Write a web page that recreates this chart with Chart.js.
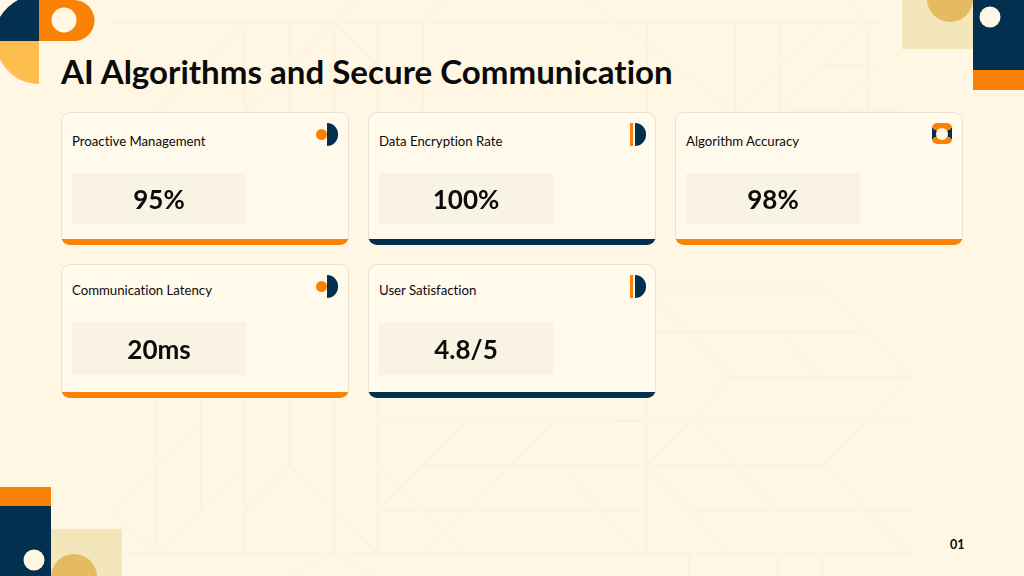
<!DOCTYPE html>
<html>
<head>
<meta charset="utf-8">
<script src="https://cdn.jsdelivr.net/npm/chart.js@4/dist/chart.umd.min.js"></script>
<style>
  html, body { margin: 0; padding: 0; }
  body { width: 1024px; height: 576px; overflow: hidden; position: relative; background: #fff7e4; font-family: Lato, "Noto Sans", sans-serif; font-variant-ligatures: none; color: #0b0b0b; }
  svg.bg { position: absolute; left: 0; top: 0; }
  h1 { position: absolute; left: 61px; top: 50px; margin: 0; font-size: 33.1px; line-height: 42px; font-weight: 700; white-space: nowrap; }
  .card { position: absolute; width: 288px; box-sizing: border-box; background: #fffaeb; box-shadow: inset 0 0 0 1px #e9e1ce; border-radius: 9px; overflow: hidden; }
  .card .strip { position: absolute; left: 0; right: 0; bottom: 0; height: 6px; }
  .card .name { position: absolute; left: 11px; font-size: 13.2px; line-height: 16px; white-space: nowrap; }
  .card canvas { position: absolute; left: 11px; }
  .icon { position: absolute; width: 24px; height: 23px; }
  .dot { position: absolute; left: 0; top: 6px; width: 11px; height: 11px; border-radius: 50%; background: #f98205; }
  .half { position: absolute; left: 11px; top: 0; width: 11px; height: 23px; border-radius: 0 12px 12px 0; background: #03304f; }
  .rule { position: absolute; left: 0; top: 0; width: 3px; height: 23px; background: #f98205; }
  .ring { position: absolute; left: 0; top: 0; width: 20px; height: 21px; border-radius: 5px; background: conic-gradient(from -62deg, #f98205 0 124deg, #03304f 124deg 180deg, #f98205 180deg 304deg, #03304f 304deg 360deg); }
  .ring i { position: absolute; left: 4px; top: 4.5px; width: 12px; height: 12px; border-radius: 50%; background: #fff7e4; }
  .page { position: absolute; left: 950px; top: 537px; font-size: 12.5px; line-height: 16px; font-weight: 700; }
</style>
</head>
<body>

<svg class="bg" width="1024" height="576" viewBox="0 0 1024 576">
  <!-- faint background pattern -->
  <g fill="none" stroke="#f9efd8" stroke-width="1">
    <path d="M110 22H880M245 22V112M290 22V112M334 22V112M378 22V112M423 22V112M647 22V112M735 22V112M779 22V112M867 22V112"/>
    <path d="M334 22L378 -22M334 22L423 112M157 112L245 22M245 112L334 22M423 22L467 -22M560 -22L735 112M735 112L824 22M779 112L867 22M867 22L824 -22M779 110H900M824 66H880L836 110"/>
    <path d="M655 288H823L910 377L823 465H646L732 377H910M656 332H867M732 377L655 300M781 335L821 377M620 421H912M692 421L777 510M692 421L646 465M692 510H912M620 554H912M646 465L732 554M823 465L910 554"/>
    <path d="M157 398V554M201 398V510M245 398V554M290 398V465M334 398V554M378 398V554M646 398V554M689 554V576M778 554V576M822 554V576"/>
    <path d="M123 554H620M378 421H640M423 465H640M378 510H640M290 465L245 510M290 465L378 554M378 510L467 421M378 465L423 510L467 554M423 554L511 465M157 554L245 465M112 510L201 421M112 510L157 554M511 465L555 421M560 465L640 554M334 554L290 576M334 554L378 576"/>
  </g>
  <!-- corner shapes -->
  <path d="M39 41H0V17A46 46 0 0 1 18 0H39Z" fill="#03304f"/>
  <path d="M39 0H74A20.5 20.5 0 0 1 74 41H39Z" fill="#f98205"/>
  <circle cx="64" cy="20" r="12.5" fill="#fff7e4"/>
  <path d="M39 41V84A43 43 0 0 1 0 59V41Z" fill="#fdbd4f"/>
  <rect x="902" y="0" width="71" height="49" fill="#f3e6bb"/>
  <circle cx="950" cy="-1" r="23" fill="#e4bb60"/>
  <rect x="973" y="0" width="51" height="70" fill="#03304f"/>
  <rect x="973" y="70" width="51" height="20" fill="#f98205"/>
  <circle cx="990" cy="17" r="10.5" fill="#fff7e4"/>
  <rect x="0" y="487" width="51" height="19" fill="#f98205"/>
  <rect x="0" y="506" width="51" height="70" fill="#03304f"/>
  <circle cx="34" cy="560" r="10.5" fill="#fff7e4"/>
  <rect x="51" y="529" width="71" height="47" fill="#f3e6bb"/>
  <circle cx="74" cy="577" r="23" fill="#e4bb60"/>
</svg>

<h1>AI Algorithms and Secure Communication</h1>
<div id="cards"></div>
<div class="page">01</div>

<script>
var cardNames = ['Proactive Management', 'Data Encryption Rate', 'Algorithm Accuracy', 'Communication Latency', 'User Satisfaction'];
var cardValues = ['95%', '100%', '98%', '20ms', '4.8/5'];
var tileFill = [1, 1, 1, 1, 1];

var holder = document.getElementById('cards');

// writes the card figure in the middle of its bar
var valueLabel = {
  id: 'valueLabel',
  afterDatasetsDraw: function(chart) {
    var ctx = chart.ctx;
    var bar = chart.getDatasetMeta(0).data[0];
    ctx.save();
    ctx.font = '700 26px Lato, sans-serif';
    ctx.fillStyle = '#0b0b0b';
    ctx.textAlign = 'center';
    ctx.textBaseline = 'middle';
    ctx.fillText(chart.data.labels[0], chart.scales.x.getPixelForValue(0.5), bar.y + 2.5);
    ctx.restore();
  }
};

cardNames.forEach(function(name, i) {
  var col = i % 3;
  var row = Math.floor(i / 3);
  var card = document.createElement('div');
  card.className = 'card';
  card.style.left = (61 + col * 307) + 'px';
  card.style.top = (row ? 264 : 112) + 'px';
  card.style.height = (row ? 134 : 133) + 'px';

  var strip = document.createElement('div');
  strip.className = 'strip';
  strip.style.background = col == 1 ? '#03304f' : '#f98205';
  card.appendChild(strip);

  var title = document.createElement('div');
  title.className = 'name';
  title.style.top = (row ? 18 : 21) + 'px';
  title.textContent = name;
  card.appendChild(title);

  var icon = document.createElement('div');
  icon.className = 'icon';
  icon.style.left = (col == 0 ? 255 : col == 1 ? 262 : 257) + 'px';
  icon.style.top = '11px';
  if (col == 0) icon.innerHTML = '<div class="dot"></div><div class="half"></div>';
  if (col == 1) icon.innerHTML = '<div class="rule"></div><div class="half" style="left:5px"></div>';
  if (col == 2) icon.innerHTML = '<div class="ring"><i></i></div>';
  card.appendChild(icon);

  var canvas = document.createElement('canvas');
  canvas.width = 174;
  canvas.height = row ? 53 : 51;
  canvas.style.top = (row ? 58 : 61) + 'px';
  card.appendChild(canvas);
  holder.appendChild(card);

  new Chart(canvas.getContext('2d'), {
    type: 'bar',
    plugins: [valueLabel],
    data: {
      labels: [cardValues[i]],
      datasets: [{ data: [tileFill[i]], backgroundColor: '#f8f3e2', barPercentage: 1, categoryPercentage: 1 }]
    },
    options: {
      indexAxis: 'y',
      responsive: false,
      animation: false,
      layout: { padding: 0 },
      plugins: { legend: { display: false }, tooltip: { enabled: false } },
      scales: {
        x: { display: false, min: 0, max: 1 },
        y: { display: false }
      }
    }
  });
});
</script>
</body>
</html>
